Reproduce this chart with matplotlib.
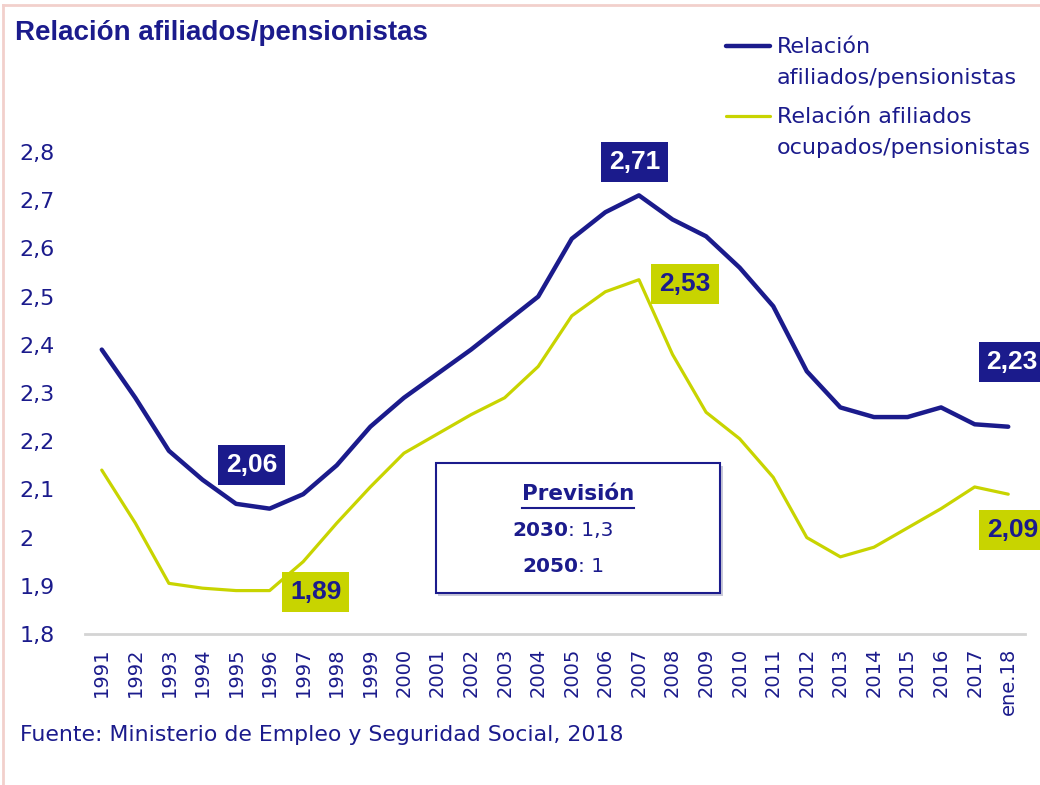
import matplotlib.pyplot as plt
from matplotlib.patches import Rectangle
from matplotlib.lines import Line2D

# data
years = ["1991", "1992", "1993", "1994", "1995", "1996", "1997", "1998", "1999",
         "2000", "2001", "2002", "2003", "2004", "2005", "2006", "2007", "2008",
         "2009", "2010", "2011", "2012", "2013", "2014", "2015", "2016", "2017",
         "ene.18"]
afiliados = [2.39, 2.29, 2.18, 2.12, 2.07, 2.06, 2.09, 2.15, 2.23, 2.29, 2.34,
             2.39, 2.445, 2.50, 2.62, 2.675, 2.71, 2.66, 2.625, 2.56, 2.48,
             2.345, 2.27, 2.25, 2.25, 2.27, 2.235, 2.23]
ocupados = [2.14, 2.03, 1.905, 1.895, 1.89, 1.89, 1.95, 2.03, 2.105, 2.175,
            2.215, 2.255, 2.29, 2.355, 2.46, 2.51, 2.535, 2.38, 2.26, 2.205,
            2.125, 2.00, 1.96, 1.98, 2.02, 2.06, 2.105, 2.09]
yticks = [1.8, 1.9, 2.0, 2.1, 2.2, 2.3, 2.4, 2.5, 2.6, 2.7, 2.8]
ylabels = ["1,8", "1,9", "2", "2,1", "2,2", "2,3", "2,4", "2,5", "2,6", "2,7", "2,8"]
series_names = ["Relación\nafiliados/pensionistas",
                "Relación afiliados\nocupados/pensionistas"]

navy = "#1b1b8c"
lime = "#c8d400"

plt.rcParams["font.family"] = "DejaVu Sans"
narrow = ["Liberation Sans Narrow", "Liberation Sans", "DejaVu Sans"]

fig = plt.figure(figsize=(10.4, 7.85), dpi=100)
ax = fig.add_axes([0.0817, 0.1924, 0.9039, 0.614])

x = list(range(len(years)))
ax.plot(x, afiliados, color=navy, lw=3.2, solid_capstyle="round")
ax.plot(x, ocupados, color=lime, lw=2.3, solid_capstyle="round")

ax.set_xlim(-0.5, 27.5)
ax.set_ylim(1.8, 2.8)
ax.set_yticks(yticks)
ax.set_yticklabels(ylabels, ha="left")
ax.set_xticks(x)
ax.set_xticklabels(years, rotation=90)
ax.tick_params(axis="y", length=0, labelsize=16, labelcolor=navy, pad=47)
ax.tick_params(axis="x", length=0, labelsize=14, labelcolor=navy, pad=10)
for s in ["top", "right", "left"]:
    ax.spines[s].set_visible(False)
ax.spines["bottom"].set_color("#d4d4d4")
ax.spines["bottom"].set_linewidth(2)

# value boxes
labels = [("2,06", 4.46, 2.151, navy, "white"),
          ("2,71", 15.88, 2.779, navy, "white"),
          ("2,23", 27.12, 2.364, navy, "white"),
          ("1,89", 6.37, 1.887, lime, navy),
          ("2,53", 17.37, 2.526, lime, navy),
          ("2,09", 27.12, 2.016, lime, navy)]
for txt, xi, yi, bg, fg in labels:
    ax.text(xi, yi, txt, ha="center", va="center", fontsize=19, fontweight="bold",
            family=narrow, color=fg, clip_on=False,
            bbox=dict(boxstyle="square,pad=0.3", fc=bg, ec="none"))

# forecast box
shadow = Rectangle((438 / 1040, 1 - 596 / 785), 285 / 1040, 130 / 785,
                   transform=fig.transFigure, fc="#c8c8d8", ec="none", zorder=3)
box = Rectangle((436 / 1040, 1 - 593 / 785), 284 / 1040, 130 / 785,
                transform=fig.transFigure, fc="white", ec=navy, lw=1.5, zorder=4)
fig.patches.extend([shadow, box])
fig.text(578 / 1040, 1 - 494 / 785, "Previsión", ha="center", va="center",
         fontsize=15.5, fontweight="bold", color=navy, zorder=5)
fig.add_artist(Line2D([522 / 1040, 634 / 1040], [1 - 508 / 785, 1 - 508 / 785],
                      color=navy, lw=1.5, zorder=5))
fig.text(568 / 1040, 1 - 531 / 785, "2030", ha="right", va="center",
         fontsize=14.5, fontweight="bold", color=navy, zorder=5)
fig.text(568 / 1040, 1 - 531 / 785, ": 1,3", ha="left", va="center",
         fontsize=14.5, color=navy, zorder=5)
fig.text(578 / 1040, 1 - 567 / 785, "2050", ha="right", va="center",
         fontsize=14.5, fontweight="bold", color=navy, zorder=5)
fig.text(578 / 1040, 1 - 567 / 785, ": 1", ha="left", va="center",
         fontsize=14.5, color=navy, zorder=5)

# legend, handle aligned with first text line
for name, col, lw, ypx in [(series_names[0], navy, 3.2, 46),
                           (series_names[1], lime, 2.3, 116)]:
    fy = 1 - ypx / 785
    fig.add_artist(Line2D([726 / 1040, 770 / 1040], [fy, fy], color=col, lw=lw,
                          solid_capstyle="round"))
    fig.text(777 / 1040, 1 - (ypx - 9) / 785, name, ha="left", va="top",
             fontsize=16, color=navy, linespacing=1.7)

fig.text(15 / 1040, 1 - 33 / 785, "Relación afiliados/pensionistas", ha="left",
         va="center", fontsize=20, fontweight="bold", family=narrow, color=navy)
fig.text(20 / 1040, 1 - 735 / 785,
         "Fuente: Ministerio de Empleo y Seguridad Social, 2018", ha="left",
         va="center", fontsize=15.8, color=navy)

# pink frame
fig.add_artist(Line2D([3 / 1040, 1], [1 - 5 / 785, 1 - 5 / 785], color="#f2d0cc", lw=2))
fig.add_artist(Line2D([3 / 1040, 3 / 1040], [0, 1 - 5 / 785], color="#f2d0cc", lw=2))

fig.savefig("out.png", dpi=100)
